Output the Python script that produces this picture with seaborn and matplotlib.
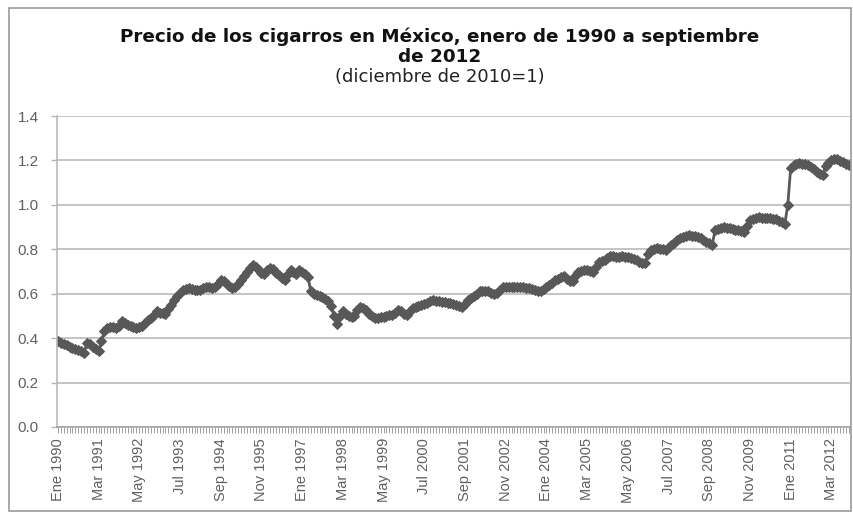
import matplotlib
matplotlib.use("Agg")
import matplotlib.pyplot as plt
from matplotlib.patches import Rectangle
import seaborn as sns
import pandas as pd
import numpy as np

months_es = ["Ene", "Feb", "Mar", "Abr", "May", "Jun", "Jul", "Ago", "Sep", "Oct", "Nov", "Dic"]
start_year = 1990

y1990 = [0.385, 0.380, 0.373, 0.367, 0.360, 0.355, 0.350, 0.345, 0.340, 0.335, 0.378, 0.372]
y1991 = [0.362, 0.352, 0.342, 0.385, 0.430, 0.445, 0.452, 0.448, 0.445, 0.455, 0.478, 0.470]
y1992 = [0.460, 0.455, 0.450, 0.445, 0.448, 0.455, 0.470, 0.482, 0.490, 0.505, 0.520, 0.515]
y1993 = [0.512, 0.510, 0.530, 0.550, 0.570, 0.590, 0.605, 0.615, 0.620, 0.625, 0.620, 0.615]
y1994 = [0.615, 0.617, 0.625, 0.632, 0.630, 0.625, 0.628, 0.645, 0.660, 0.655, 0.645, 0.635]
y1995 = [0.625, 0.630, 0.645, 0.660, 0.680, 0.700, 0.715, 0.728, 0.720, 0.705, 0.695, 0.690]
y1996 = [0.705, 0.718, 0.710, 0.695, 0.683, 0.670, 0.662, 0.688, 0.705, 0.697, 0.690, 0.705]
y1997 = [0.700, 0.690, 0.675, 0.610, 0.600, 0.595, 0.590, 0.585, 0.578, 0.565, 0.545, 0.500]
y1998 = [0.465, 0.500, 0.520, 0.510, 0.500, 0.495, 0.500, 0.525, 0.540, 0.535, 0.525, 0.510]
y1999 = [0.500, 0.490, 0.490, 0.493, 0.497, 0.500, 0.503, 0.505, 0.515, 0.527, 0.520, 0.510]
y2000 = [0.505, 0.520, 0.535, 0.540, 0.545, 0.550, 0.555, 0.560, 0.565, 0.570, 0.567, 0.565]
y2001 = [0.564, 0.562, 0.560, 0.557, 0.553, 0.550, 0.545, 0.540, 0.552, 0.570, 0.580, 0.590]
y2002 = [0.600, 0.610, 0.612, 0.610, 0.610, 0.605, 0.600, 0.603, 0.615, 0.630, 0.628, 0.630]
y2003 = [0.630, 0.632, 0.630, 0.628, 0.630, 0.627, 0.624, 0.620, 0.615, 0.610, 0.612, 0.620]
y2004 = [0.630, 0.640, 0.650, 0.660, 0.668, 0.675, 0.678, 0.668, 0.658, 0.655, 0.680, 0.700]
y2005 = [0.703, 0.705, 0.707, 0.703, 0.700, 0.720, 0.744, 0.747, 0.750, 0.760, 0.768, 0.772]
y2006 = [0.767, 0.767, 0.768, 0.767, 0.766, 0.762, 0.757, 0.750, 0.745, 0.740, 0.737, 0.780]
y2007 = [0.797, 0.800, 0.805, 0.803, 0.800, 0.797, 0.810, 0.820, 0.830, 0.840, 0.850, 0.855]
y2008 = [0.862, 0.864, 0.862, 0.858, 0.855, 0.850, 0.843, 0.835, 0.827, 0.820, 0.885, 0.893]
y2009 = [0.898, 0.900, 0.897, 0.894, 0.892, 0.888, 0.887, 0.884, 0.880, 0.905, 0.930, 0.935]
y2010 = [0.940, 0.945, 0.943, 0.940, 0.940, 0.940, 0.938, 0.935, 0.928, 0.922, 0.915, 1.000]
y2011 = [1.165, 1.178, 1.183, 1.187, 1.185, 1.183, 1.180, 1.172, 1.162, 1.150, 1.138, 1.135]
y2012 = [1.175, 1.190, 1.200, 1.208, 1.205, 1.198, 1.192, 1.185, 1.178]

yearly = [y1990, y1991, y1992, y1993, y1994, y1995, y1996, y1997, y1998, y1999, y2000,
          y2001, y2002, y2003, y2004, y2005, y2006, y2007, y2008, y2009, y2010, y2011, y2012]

values = []
labels = []
for i, yr in enumerate(yearly):
    for j, v in enumerate(yr):
        values.append(v)
        labels.append(f"{months_es[j]} {start_year + i}")

df = pd.DataFrame({"idx": np.arange(len(values)), "precio": values, "mes": labels})

# ---- figure ----
sns.set_theme(style="white")
plt.rcParams["font.family"] = ["DejaVu Sans"]

fig = plt.figure(figsize=(8.54, 5.12), dpi=100)
ax = fig.add_axes([57 / 854, 1 - 427 / 512, (850 - 57) / 854, (427 - 116) / 512])

line_color = "#585858"
sns.lineplot(data=df, x="idx", y="precio", ax=ax, color=line_color, linewidth=2.0,
             marker="D", markersize=4.8, markeredgecolor=line_color, markerfacecolor=line_color)

ax.set_xlim(-0.3, len(values) - 0.6)
ax.set_ylim(0, 1.4)
ax.set_yticks(np.arange(0, 1.41, 0.2))
ax.set_yticklabels([f"{t:.1f}" for t in np.arange(0, 1.41, 0.2)], fontsize=11,
                   color="#606060", family="Liberation Sans")
ax.yaxis.grid(True, color="#b4b4b4", linewidth=1.1)
ax.xaxis.grid(False)

tick_pos = list(range(0, len(values), 14))
ax.set_xticks(tick_pos)
ax.set_xticklabels([labels[p] for p in tick_pos], rotation=90, fontsize=10.5,
                   color="#606060", family="Liberation Sans")
ax.set_xticks(np.arange(len(values)), minor=True)
ax.tick_params(axis="x", which="both", direction="out", length=4, width=0.7,
               color="#a0a0a0", bottom=True, pad=4)
ax.tick_params(axis="y", which="major", direction="out", length=4, width=1.0,
               color="#b4b4b4", left=True, pad=9)
ax.set_xlabel("")
ax.set_ylabel("")

for s in ["top", "right"]:
    ax.spines[s].set_visible(False)
ax.spines["left"].set_color("#b4b4b4")
ax.spines["left"].set_linewidth(1.1)
ax.spines["bottom"].set_color("#a0a0a0")
ax.spines["bottom"].set_linewidth(1.1)

# titles
fig.text(0.515, 1 - 37 / 512, "Precio de los cigarros en México, enero de 1990 a septiembre",
         ha="center", va="center", fontsize=13.2, fontweight="bold", color="#111111")
fig.text(0.515, 1 - 57 / 512, "de 2012", ha="center", va="center", fontsize=13.2,
         fontweight="bold", color="#111111")
fig.text(0.515, 1 - 77 / 512, "(diciembre de 2010=1)", ha="center", va="center",
         fontsize=13, color="#222222")

# outer chart border
fig.patches.append(Rectangle((9 / 854, 1 / 512), (851 - 9) / 854, (504 - 1) / 512,
                             transform=fig.transFigure, fill=False,
                             edgecolor="#9a9a9a", linewidth=1.2))

fig.savefig("out.png", dpi=100, facecolor="white")
